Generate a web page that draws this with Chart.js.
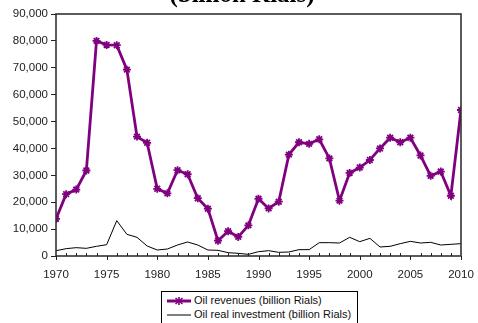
<!DOCTYPE html>
<html><head><meta charset="utf-8">
<script src="https://cdn.jsdelivr.net/npm/chart.js@4/dist/chart.umd.min.js"></script>
<style>
html,body{margin:0;padding:0;background:#fff;}
#wrap{position:relative;width:478px;height:323px;overflow:hidden;}
#c{position:absolute;left:0;top:0;}
#legend{position:absolute;left:161px;top:291px;width:195px;height:40px;border:1px solid #000;background:#fff;font:11px "Liberation Sans",Arial,sans-serif;color:#111;}
#legend .row{position:absolute;left:4px;height:14px;line-height:14px;white-space:nowrap;}
#legend svg{vertical-align:middle;margin-right:2px;}
</style></head>
<body><div id="wrap"><canvas id="c" width="478" height="323"></canvas>
<div id="legend">
<div class="row" style="top:1px"><svg width="26" height="10"><line x1="1" y1="5" x2="25" y2="5" stroke="#800080" stroke-width="3"/><g stroke="#800080" stroke-width="1.6"><line x1="13" y1="1" x2="13" y2="9"/><line x1="9.5" y1="2" x2="16.5" y2="8"/><line x1="16.5" y1="2" x2="9.5" y2="8"/></g></svg>Oil revenues (billion Rials)</div>
<div class="row" style="top:15px"><svg width="26" height="10"><line x1="1" y1="5" x2="25" y2="5" stroke="#000" stroke-width="1"/></svg>Oil real investment (billion Rials)</div>
</div></div>
<script>
const years = [1970,1971,1972,1973,1974,1975,1976,1977,1978,1979,1980,1981,1982,1983,1984,1985,1986,1987,1988,1989,1990,1991,1992,1993,1994,1995,1996,1997,1998,1999,2000,2001,2002,2003,2004,2005,2006,2007,2008,2009,2010];
const oilRevenues = [13800,23000,24700,31800,80000,78500,78400,69300,44400,42100,25000,23300,31900,30400,21500,17600,5700,9200,7100,11400,21300,17700,20200,37700,42300,41700,43400,36300,20600,30900,32900,35700,40000,44000,42300,44000,37400,29800,31400,22400,54300];
const oilInvestment = [1980,2730,3100,2850,3600,4200,13140,8060,6940,3720,2230,2600,4090,5210,4090,2230,2110,1240,990,620,1610,1980,1360,1490,2360,2360,4960,4960,4830,6940,5330,6570,3350,3600,4590,5450,4830,5080,4090,4340,4590];
const yTicks = [0,10000,20000,30000,40000,50000,60000,70000,80000,90000];
const titleText = '(billion Rials)';

const toPts = vals => years.map((y,i)=>({x:y,y:vals[i]}));

const framePlugin = {
  id:'frame',
  afterDraw(chart){
    const {ctx, chartArea:a, scales:{x}} = chart;
    ctx.save();
    ctx.strokeStyle='#333';
    ctx.lineWidth=1.6;
    ctx.strokeRect(a.left, a.top, a.right-a.left, a.bottom-a.top);
    ctx.lineWidth=1;
    ctx.strokeStyle='#222';
    years.forEach(yr=>{
      const px = Math.round(x.getPixelForValue(yr))+0.5;
      ctx.beginPath();
      if (yr%5===0){ ctx.moveTo(px,a.bottom); ctx.lineTo(px,a.bottom+4); }
      else { ctx.moveTo(px,a.bottom); ctx.lineTo(px,a.bottom-3); }
      ctx.stroke();
    });
    ctx.font='bold 25px "Liberation Serif", "Times New Roman", serif';
    ctx.fillStyle='#000';
    ctx.textAlign='center';
    ctx.textBaseline='alphabetic';
    ctx.fillText(titleText, 242, 2);
    ctx.restore();
  }
};

new Chart(document.getElementById('c'), {
  type:'line',
  data:{datasets:[
    {label:'Oil revenues (billion Rials)', data:toPts(oilRevenues), borderColor:'#800080', backgroundColor:'#800080', borderWidth:2.8, pointStyle:'star', pointRadius:4, pointBorderWidth:1.8, pointBorderColor:'#800080', tension:0, order:1},
    {label:'Oil real investment (billion Rials)', data:toPts(oilInvestment), borderColor:'#000', borderWidth:1, pointRadius:0, tension:0, order:2}
  ]},
  options:{
    responsive:false, animation:false,
    layout:{padding:{left:0,right:17,top:14,bottom:0}},
    plugins:{legend:{display:false}, tooltip:{enabled:false}},
    scales:{
      x:{type:'linear', min:1970, max:2010,
        afterBuildTicks(s){ s.ticks = years.filter(y=>y%5===0).map(v=>({value:v})); },
        afterFit(s){ s.height = 67; },
        ticks:{autoSkip:false, maxRotation:0, padding:4, color:'#222', font:{family:'"Liberation Sans", Arial, sans-serif', size:11.5}, callback:v=>String(v)},
        grid:{display:false, drawOnChartArea:false}, border:{display:false}},
      y:{min:0, max:90000,
        afterBuildTicks(s){ s.ticks = yTicks.map(v=>({value:v})); },
        afterFit(s){ s.width = 56; },
        ticks:{padding:3, color:'#222', font:{family:'"Liberation Sans", Arial, sans-serif', size:11.5}, callback:v=>v.toLocaleString('en-US')},
        grid:{drawOnChartArea:false, tickLength:5, color:'#222'}, border:{display:false}}
    }
  },
  plugins:[framePlugin]
});
</script></body></html>
